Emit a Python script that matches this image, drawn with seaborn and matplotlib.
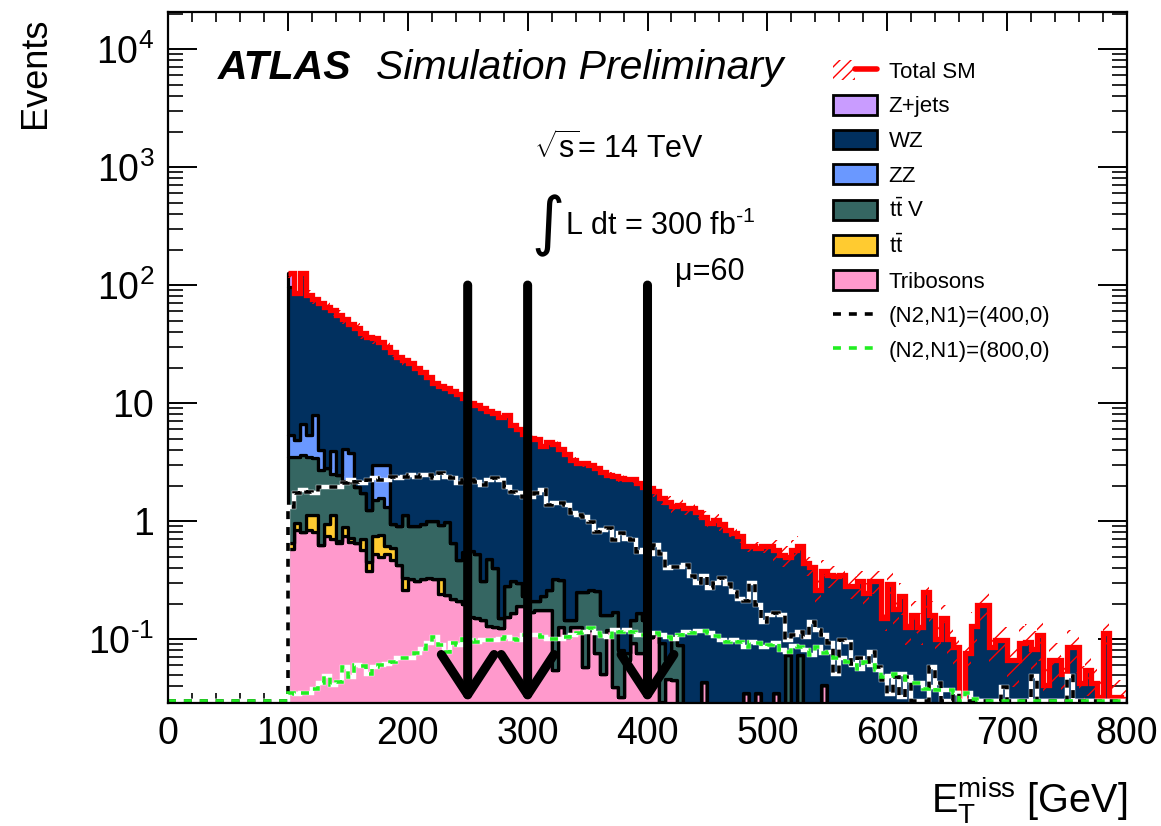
import numpy as np
import pandas as pd
import matplotlib
matplotlib.use("Agg")
import matplotlib.pyplot as plt
import seaborn as sns
from matplotlib.patches import Patch
from matplotlib.lines import Line2D
from matplotlib.legend_handler import HandlerTuple
from matplotlib.ticker import MultipleLocator, LogLocator, NullFormatter

# ---------------- data (events per 5 GeV bin, 100-800 GeV) ----------------
bin_edges = np.arange(100, 805, 5)
signal_edges = np.arange(0, 805, 5)

total_sm = [127, 85, 126, 82, 76, 70, 65, 61, 56, 52, 47, 43, 39, 36.5, 35.3, 33, 30, 27.2, 24.7, 23.1,
            21.7, 19.7, 18.4, 16.7, 14.7, 13.9, 13.3, 12.6, 11.9, 11.0, 10.1, 9.6, 9.0, 8.6, 8.2, 7.6,
            7.9, 6.5, 6.0, 5.5, 5.1, 5.0, 4.3, 4.7, 4.5, 4.1, 3.7, 3.3, 3.1, 3.08, 2.98, 2.8, 2.6, 2.45,
            2.4, 2.3, 2.25, 2.25, 2.09, 1.95, 1.89, 1.81, 1.56, 1.46, 1.34, 1.37, 1.28, 1.28, 1.2, 1.09,
            0.96, 1.02, 0.94, 0.84, 0.79, 0.74, 0.62, 0.61, 0.59, 0.61, 0.61, 0.57, 0.52, 0.50, 0.57,
            0.61, 0.44, 0.41, 0.26, 0.38, 0.35, 0.34, 0.35, 0.28, 0.28, 0.31, 0.244, 0.31, 0.31, 0.15,
            0.29, 0.18, 0.23, 0.127, 0.16, 0.127, 0.25, 0.16, 0.10, 0.15, 0.10, 0.086, 0.0, 0.076, 0.13,
            0.194, 0.194, 0.086, 0.098, 0.098, 0.066, 0.066, 0.092, 0.095, 0.083, 0.108, 0.041, 0.066,
            0.066, 0.051, 0.086, 0.086, 0.042, 0.055, 0.042, 0.032, 0.112, 0.032, 0.032, 0.031]

zjets = [30] + [0] * 139

zz = [1.9, 1.4, 3.1, 1.9, 4.5, 1.3, 0, 1.4, 0, 1.9, 1.6, 0, 0, 0, 1.5, 1.44, 1.68] + [0] * 123

ttv = ([2.85, 2.54, 2.79, 2.38, 2.28, 2.07, 1.85, 1.38, 1.77, 1.31, 1.43, 1.30, 1.01, 0.79, 0.76,
        0.80, 0.71, 0.36, 0.48, 0.79, 0.58, 0.59, 0.63, 0.67, 0.68, 0.60, 0.75, 0.43, 0.26, 0.35,
        0.40, 0.38, 0.165, 0.35, 0.27, 0.027, 0.125, 0.145, 0.11, 0.04, 0.04, 0.034, 0.054, 0.084,
        0.265, 0.19, 0.04, 0.018, 0.123, 0.19, 0.14, 0.18, 0.11, 0.04, 0.13, 0.049, 0.01, 0.053,
        0.089, 0.069, 0, 0, 0.063, 0.02, 0.059, 0.089, 0, 0, 0, 0, 0, 0,
        0, 0, 0, 0, 0, 0, 0, 0, 0, 0, 0, 0.073, 0, 0.073] + [0] * 54)

ttbar = ([0.07, 0.12, 0, 0.28, 0.31, 0, 0.21, 0.41, 0.03, 0.15, 0.05, 0, 0.14, 0.07, 0.21, 0.26,
          0.08, 0.12, 0, 0.07, 0, 0, 0, 0, 0, 0.08] + [0] * 114)

tribosons = ([0.58, 0.84, 0.81, 0.84, 0.81, 0.63, 0.74, 0.71, 0.65, 0.74, 0.67, 0.65, 0.57, 0.38,
              0.53, 0.50, 0.53, 0.47, 0.42, 0.26, 0.32, 0.31, 0.32, 0.33, 0.32, 0.24, 0.236, 0.22,
              0.21, 0.20, 0.155, 0.15, 0.145, 0.13, 0.127, 0.123, 0.155, 0.165, 0.19, 0.19, 0.17,
              0.176, 0.176, 0.176, 0.055, 0.127, 0.105, 0.127, 0.127, 0.058, 0.12, 0.076, 0.051,
              0.12, 0.039, 0.032, 0.066, 0.092, 0.076, 0.076, 0.105, 0.112, 0.029, 0.046, 0.045,
              0, 0, 0, 0, 0.043, 0, 0, 0, 0, 0, 0, 0.035, 0, 0.035, 0, 0, 0.035, 0, 0, 0, 0, 0, 0,
              0, 0.041] + [0] * 50)

sig_400 = [1.32, 1.72, 1.83, 1.77, 1.72, 1.95, 1.95, 1.95, 1.95, 2.09, 2.22, 2.15, 2.09, 2.22, 2.3,
           2.22, 2.22, 2.37, 2.3, 2.37, 2.45, 2.37, 2.45, 2.45, 2.3, 2.54, 2.37, 2.3, 2.09, 2.22,
           2.22, 2.15, 2.02, 2.22, 2.3, 2.22, 1.95, 1.77, 1.72, 1.61, 1.61, 1.72, 1.83, 1.37, 1.41,
           1.41, 1.37, 1.16, 1.12, 1.09, 0.99, 0.81, 0.84, 0.87, 0.69, 0.79, 0.71, 0.69, 0.55, 0.57,
           0.53, 0.63, 0.53, 0.40, 0.41, 0.41, 0.42, 0.34, 0.30, 0.34, 0.27, 0.30, 0.33, 0.29, 0.25,
           0.22, 0.21, 0.30, 0.194, 0.14, 0.16, 0.165, 0.16, 0.098, 0.108, 0.115, 0.105, 0.14, 0.12,
           0.108, 0.092, 0.051, 0.098, 0.095, 0.062, 0.069, 0.064, 0.078, 0.058, 0.045, 0.034,
           0.048, 0.032, 0.048, 0.030, 0, 0, 0.058, 0.042, 0, 0, 0.035, 0, 0, 0, 0, 0, 0, 0, 0.039,
           0, 0, 0, 0, 0.049, 0, 0, 0, 0, 0, 0.049, 0, 0, 0, 0, 0, 0, 0, 0, 0]

sig_800 = [0.035, 0.034, 0.035, 0.035, 0.038, 0.042, 0.049, 0.041, 0.043, 0.058, 0.048, 0.06, 0.059,
           0.051, 0.058, 0.06, 0.062, 0.064, 0.069, 0.069, 0.069, 0.076, 0.083, 0.092, 0.105, 0.089,
           0.078, 0.092, 0.089, 0.10, 0.098, 0.095, 0.098, 0.098, 0.098, 0.10, 0.105, 0.10, 0.098,
           0.108, 0.108, 0.108, 0.105, 0.10, 0.10, 0.10, 0.104, 0.108, 0.112, 0.115, 0.123, 0.112,
           0.106, 0.105, 0.12, 0.115, 0.12, 0.115, 0.108, 0.108, 0.112, 0.112, 0.108, 0.105, 0.10,
           0.108, 0.115, 0.112, 0.118, 0.118, 0.112, 0.106, 0.099, 0.095, 0.099, 0.095, 0.086,
           0.095, 0.092, 0.086, 0.089, 0.092, 0.081, 0.078, 0.087, 0.085, 0.081, 0.073, 0.086,
           0.076, 0.078, 0.069, 0.069, 0.064, 0.06, 0.056, 0.064, 0.06, 0.055, 0.048, 0.049, 0.051,
           0.051, 0.045, 0.042, 0.042, 0.038, 0.039, 0.037, 0.037, 0.037, 0.035, 0, 0.035, 0.031,
           0, 0, 0, 0, 0] + [0] * 20

# relative uncertainty of Total SM per 100 GeV block (7 blocks)
total_rel_err = [0.10, 0.04, 0.06, 0.12, 0.22, 0.30, 0.40]

cut_values = [250, 300, 400]

process_names = ["Z+jets", "WZ", "ZZ", "ttV", "tt", "Tribosons"]
process_labels = ["Z+jets", "WZ", "ZZ", r"$\mathrm{t\bar{t}}$ V", r"$\mathrm{t\bar{t}}$", "Tribosons"]
process_colors = ["#c99cff", "#01305f", "#6a98ff", "#356662", "#ffcb30", "#ff99cc"]

y_tick_vals = [0.1, 1, 10, 100, 1000, 10000]
y_tick_labels = [r"$10^{\text{-1}}$", "1", "10", r"$10^{2}$", r"$10^{3}$", r"$10^{4}$"]

# ---------------- style ----------------
sns.set_theme(style="ticks")
plt.rcParams["font.family"] = ["Liberation Sans", "DejaVu Sans"]
plt.rcParams["mathtext.fontset"] = "custom"
plt.rcParams["mathtext.rm"] = "Liberation Sans"
plt.rcParams["mathtext.it"] = "Liberation Sans:italic"
plt.rcParams["mathtext.bf"] = "Liberation Sans:bold"
plt.rcParams["hatch.linewidth"] = 1.0
plt.rcParams["hatch.color"] = "red"
for key in ["text.color", "axes.labelcolor", "xtick.color", "ytick.color", "axes.edgecolor"]:
    plt.rcParams[key] = "black"

W, H = 1161, 826
fig = plt.figure(figsize=(W / 100, H / 100), dpi=100)
fig.patch.set_facecolor("white")
ax = fig.add_axes([168 / W, 1 - 703 / H, (1127 - 168) / W, (703 - 12) / H])
ax.set_facecolor("white")

ymin, ymax = 0.0287, 2.06e4

# ---------------- stacked backgrounds ----------------
tot = np.array(total_sm, dtype=float)
others = np.array(zjets) + np.array(zz) + np.array(ttv) + np.array(ttbar) + np.array(tribosons)
wz = np.clip(tot - others, 0, None)

centers = 0.5 * (bin_edges[:-1] + bin_edges[1:])
series = {"Z+jets": zjets, "WZ": wz, "ZZ": zz, "ttV": ttv, "tt": ttbar, "Tribosons": tribosons}
rows = []
for name in process_names:
    for c, v in zip(centers, series[name]):
        rows.append((float(c), float(v), name))
df = pd.DataFrame(rows, columns=["met", "events", "process"])

sns.histplot(data=df, x="met", weights="events", hue="process", hue_order=process_names,
             bins=bin_edges.tolist(), multiple="stack", element="step", fill=True,
             palette=dict(zip(process_names, process_colors)), alpha=1,
             edgecolor="black", linewidth=2.3, legend=False, ax=ax, zorder=2)

ax.set_yscale("log")

# total SM uncertainty band + line
rel = np.repeat(total_rel_err, 20)
ax.stairs(tot * (1 + rel), bin_edges, baseline=tot * (1 - rel), fill=True,
          facecolor="none", edgecolor="red", hatch="//", linewidth=0, zorder=4)
ax.stairs(np.where(tot > 0, tot, ymin * 0.5), bin_edges, baseline=None,
          color="red", linewidth=3.8, zorder=5)

# signals
for sig, col in [(sig_400, "black"), (sig_800, "#22ee22")]:
    full = np.concatenate([np.zeros(20), np.array(sig, dtype=float)])
    full = np.clip(full, ymin * 1.04, None)
    ax.stairs(full, signal_edges, baseline=None, color="white", linewidth=3.2, zorder=6)
    ax.stairs(full, signal_edges, baseline=None, color=col, linewidth=2.6,
              linestyle=(0, (2.2, 2.2)), zorder=7)

# cut arrows
for cv in cut_values:
    ax.annotate("", xy=(cv, ymin), xytext=(cv, 100),
                arrowprops=dict(arrowstyle="->,head_length=1.45,head_width=0.95", lw=6.5,
                                color="black", mutation_scale=20, shrinkA=0, shrinkB=0),
                zorder=8, annotation_clip=False)

# ---------------- axes ----------------
ax.set_xlim(0, 800)
ax.set_ylim(ymin, ymax)
ax.set_xlabel("")
ax.set_ylabel("")
ax.xaxis.set_major_locator(MultipleLocator(100))
ax.xaxis.set_minor_locator(MultipleLocator(20))
ax.set_yticks(y_tick_vals)
ax.set_yticklabels(y_tick_labels)
ax.yaxis.set_minor_locator(LogLocator(base=10, subs=np.arange(2, 10)))
ax.yaxis.set_minor_formatter(NullFormatter())
ax.tick_params(axis="both", which="both", direction="in", top=True, right=True,
               colors="black", labelcolor="black")
ax.tick_params(axis="x", which="major", length=14, width=1.4, labelsize=27, pad=9)
ax.tick_params(axis="x", which="minor", length=7, width=1.2)
ax.tick_params(axis="y", which="major", length=21, width=1.4, labelsize=27, pad=10)
ax.tick_params(axis="y", which="minor", length=11, width=1.2)
for sp in ax.spines.values():
    sp.set_linewidth(1.6)
    sp.set_color("black")
    sp.set_zorder(10)

fig.text(35 / W, 1 - 18 / H, "Events", rotation=90, ha="center", va="top", fontsize=26,
         color="black")
fig.text(1127 / W, 1 - 800 / H, r"$\mathrm{E}_{\mathrm{T}}^{\mathrm{miss}}$ [GeV]",
         ha="right", va="center", fontsize=28.5, color="black")

# ---------------- annotations ----------------
fig.text(218 / W, 1 - 68 / H, "ATLAS", fontsize=29.5, fontweight="bold", fontstyle="italic",
         va="center", color="black")
fig.text(376 / W, 1 - 68 / H, "Simulation Preliminary", fontsize=29.5, fontstyle="italic",
         va="center", color="black")
fig.text(534 / W, 1 - 148 / H, r"$\sqrt{\mathrm{s}}$= 14 TeV", fontsize=22, va="center",
         color="black")
fig.text(531 / W, 1 - 226 / H, "\u222b", fontsize=46, va="center", family=["DejaVu Sans"],
         color="black")
fig.text(565 / W, 1 - 226 / H, r"L dt = 300 fb$^{\text{-1}}$", fontsize=22, va="center",
         color="black")
fig.text(675 / W, 1 - 272 / H, "\u03bc=60", fontsize=22, va="center", color="black")

# ---------------- legend ----------------
handles = [(Patch(facecolor="none", edgecolor="red", hatch="///", linewidth=0),
            Line2D([], [], color="red", lw=4))]
for c in process_colors:
    handles.append(Patch(facecolor=c, edgecolor="black", linewidth=2))
handles.append(Line2D([], [], color="black", lw=2.6, linestyle=(0, (2.2, 2.2))))
handles.append(Line2D([], [], color="#22ee22", lw=2.6, linestyle=(0, (2.2, 2.2))))
labels = ["Total SM"] + process_labels + ["(N2,N1)=(400,0)", "(N2,N1)=(800,0)"]
leg = fig.legend(handles, labels, loc="upper left", bbox_to_anchor=(833 / W, 1 - 60 / H),
                 frameon=False, fontsize=16, handlelength=2.0, handleheight=1.0,
                 labelspacing=0.55, handletextpad=0.5, borderaxespad=0, borderpad=0,
                 handler_map={tuple: HandlerTuple(ndivide=None)})
for t in leg.get_texts():
    t.set_color("black")

fig.savefig("out.png", dpi=100, facecolor="white")
